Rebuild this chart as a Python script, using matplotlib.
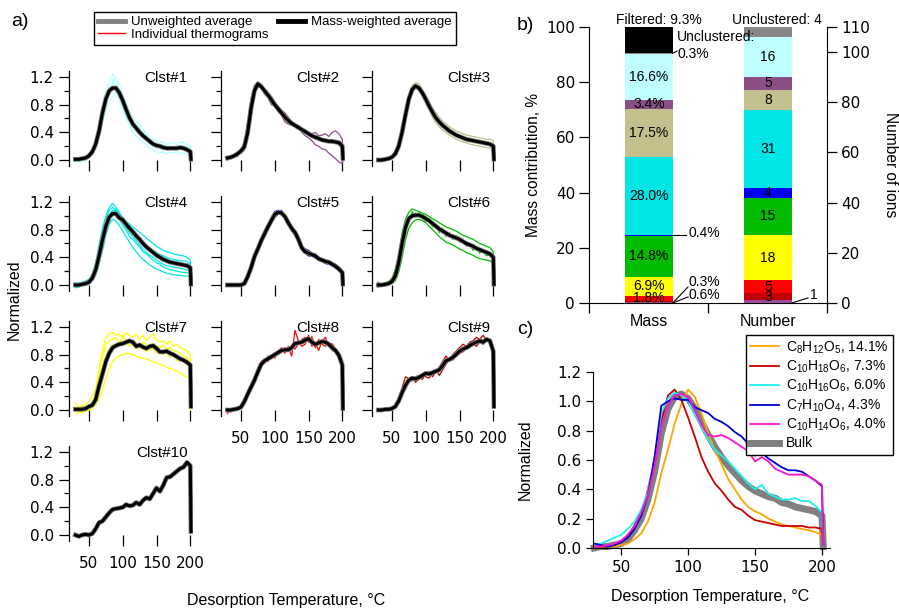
import matplotlib
matplotlib.use("Agg")
import matplotlib.pyplot as plt
import numpy as np
from matplotlib.lines import Line2D

plt.rcParams['font.family'] = ['DejaVu Sans']
plt.rcParams['mathtext.fontset'] = 'custom'
plt.rcParams['mathtext.rm'] = 'Liberation Sans'
plt.rcParams['mathtext.it'] = 'Liberation Sans:italic'
plt.rcParams['mathtext.default'] = 'regular'
TXT = 'Liberation Sans'  # text labels; tick numbers stay in DejaVu Sans

# ---------------- data ----------------
temps = [30, 35, 40, 45, 50, 55, 60, 65, 70, 75, 80, 85, 90, 95, 100, 105, 110, 115,
         120, 125, 130, 135, 140, 145, 150, 155, 160, 165, 170, 175, 180, 185, 190, 195, 200, 201]

clst1_avg = [0.01, 0.01, 0.02, 0.03, 0.06, 0.12, 0.23, 0.42, 0.68, 0.88, 1.00, 1.04,
             1.04, 0.97, 0.86, 0.73, 0.61, 0.52, 0.46, 0.40, 0.35, 0.31, 0.27, 0.23,
             0.21, 0.20, 0.18, 0.17, 0.17, 0.17, 0.17, 0.18, 0.17, 0.15, 0.12, 0.01]
clst1_ind = [
    [-0.03, 0.02, 0.00, 0.05, 0.02, 0.15, 0.30, 0.55, 0.80, 1.00, 1.12, 1.25,
     1.18, 1.10, 0.95, 0.82, 0.70, 0.62, 0.55, 0.52, 0.45, 0.38, 0.35, 0.30,
     0.28, 0.25, 0.27, 0.22, 0.24, 0.25, 0.22, 0.26, 0.25, 0.23, 0.20, 0.00],
    [0.02, -0.04, 0.03, 0.00, 0.08, 0.06, 0.15, 0.30, 0.55, 0.72, 0.85, 0.92,
     0.98, 0.85, 0.72, 0.60, 0.50, 0.40, 0.35, 0.30, 0.26, 0.22, 0.18, 0.15,
     0.12, 0.10, 0.12, 0.09, 0.11, 0.10, 0.12, 0.09, 0.10, 0.08, 0.06, 0.00],
    [0.00, 0.03, -0.02, 0.04, 0.05, 0.10, 0.22, 0.45, 0.62, 0.90, 1.05, 1.10,
     1.20, 0.92, 0.80, 0.78, 0.58, 0.50, 0.40, 0.48, 0.30, 0.36, 0.25, 0.22,
     0.16, 0.22, 0.14, 0.18, 0.15, 0.20, 0.16, 0.19, 0.21, 0.18, 0.14, -0.02],
    [0.04, 0.00, 0.02, -0.03, 0.07, 0.09, 0.18, 0.38, 0.70, 0.82, 0.95, 1.15,
     1.08, 1.02, 0.88, 0.66, 0.55, 0.46, 0.50, 0.38, 0.40, 0.28, 0.30, 0.26,
     0.24, 0.17, 0.22, 0.20, 0.14, 0.18, 0.20, 0.15, 0.18, 0.20, 0.17, 0.00],
]

clst2_avg = [0.03, 0.04, 0.06, 0.09, 0.13, 0.19, 0.40, 0.75, 1.00, 1.10, 1.06, 1.00,
             0.94, 0.87, 0.80, 0.74, 0.68, 0.62, 0.57, 0.53, 0.50, 0.47, 0.44, 0.41,
             0.38, 0.35, 0.33, 0.31, 0.29, 0.28, 0.27, 0.27, 0.26, 0.25, 0.20, 0.02]
clst2_ind = [
    [0.00, 0.02, 0.08, 0.05, 0.15, 0.25, 0.55, 0.90, 1.08, 1.12, 1.05, 0.95,
     0.90, 0.80, 0.78, 0.70, 0.65, 0.55, 0.52, 0.50, 0.48, 0.45, 0.42, 0.44,
     0.40, 0.38, 0.40, 0.35, 0.36, 0.38, 0.34, 0.40, 0.42, 0.38, 0.30, 0.02],
    [0.05, 0.03, 0.04, 0.12, 0.10, 0.14, 0.30, 0.62, 0.95, 1.13, 1.08, 1.02,
     0.96, 0.92, 0.84, 0.76, 0.70, 0.66, 0.60, 0.55, 0.52, 0.46, 0.40, 0.35,
     0.32, 0.28, 0.22, 0.20, 0.16, 0.15, 0.10, 0.06, 0.02, -0.03, -0.05, 0.00],
    [0.02, 0.06, 0.05, 0.08, 0.12, 0.20, 0.42, 0.70, 0.98, 1.05, 1.10, 1.02,
     0.98, 0.88, 0.82, 0.78, 0.72, 0.68, 0.62, 0.56, 0.50, 0.50, 0.46, 0.42,
     0.40, 0.36, 0.34, 0.32, 0.30, 0.26, 0.28, 0.24, 0.26, 0.22, 0.18, 0.02],
]

clst3_avg = [0.00, 0.00, 0.01, 0.02, 0.04, 0.09, 0.20, 0.40, 0.65, 0.88, 1.02, 1.07,
             1.04, 0.97, 0.88, 0.78, 0.69, 0.61, 0.55, 0.50, 0.46, 0.42, 0.39, 0.36,
             0.34, 0.32, 0.30, 0.29, 0.28, 0.27, 0.26, 0.25, 0.24, 0.23, 0.20, 0.01]
clst3_ind = [
    [0.00, 0.01, 0.02, 0.03, 0.06, 0.12, 0.26, 0.48, 0.74, 0.95, 1.08, 1.12,
     1.10, 1.02, 0.94, 0.85, 0.76, 0.68, 0.62, 0.56, 0.52, 0.48, 0.45, 0.42,
     0.40, 0.38, 0.36, 0.35, 0.34, 0.33, 0.32, 0.31, 0.30, 0.30, 0.28, 0.02],
    [0.00, 0.00, 0.01, 0.02, 0.03, 0.07, 0.15, 0.33, 0.58, 0.82, 0.98, 1.04,
     1.00, 0.92, 0.82, 0.72, 0.62, 0.54, 0.48, 0.43, 0.40, 0.36, 0.33, 0.30,
     0.28, 0.26, 0.25, 0.23, 0.22, 0.21, 0.20, 0.19, 0.18, 0.17, 0.15, 0.01],
    [0.01, 0.00, 0.02, 0.02, 0.05, 0.10, 0.22, 0.42, 0.68, 0.90, 1.03, 1.08,
     1.06, 0.98, 0.90, 0.80, 0.72, 0.64, 0.58, 0.52, 0.48, 0.44, 0.40, 0.38,
     0.35, 0.33, 0.31, 0.30, 0.29, 0.28, 0.27, 0.26, 0.26, 0.25, 0.23, 0.01],
]

clst4_avg = [0.00, 0.00, 0.01, 0.02, 0.04, 0.10, 0.22, 0.42, 0.65, 0.85, 0.98, 1.03,
             1.03, 0.97, 0.94, 0.88, 0.82, 0.77, 0.71, 0.66, 0.60, 0.55, 0.51, 0.47,
             0.43, 0.40, 0.37, 0.35, 0.33, 0.32, 0.31, 0.30, 0.29, 0.28, 0.25, 0.01]
clst4_ind = [
    [0.02, 0.03, 0.04, 0.06, 0.08, 0.16, 0.32, 0.58, 0.82, 1.00, 1.12, 1.18,
     1.12, 1.05, 0.98, 0.92, 0.88, 0.84, 0.80, 0.76, 0.72, 0.68, 0.64, 0.60,
     0.56, 0.53, 0.50, 0.48, 0.47, 0.45, 0.44, 0.43, 0.42, 0.40, 0.36, 0.02],
    [-0.04, -0.02, 0.00, 0.01, 0.02, 0.06, 0.14, 0.30, 0.50, 0.72, 0.88, 0.95,
     0.92, 0.86, 0.78, 0.70, 0.62, 0.55, 0.48, 0.42, 0.37, 0.33, 0.29, 0.26,
     0.23, 0.21, 0.19, 0.17, 0.16, 0.15, 0.14, 0.14, 0.13, 0.13, 0.12, 0.01],
    [0.00, 0.01, 0.02, 0.03, 0.05, 0.12, 0.25, 0.45, 0.68, 0.88, 1.02, 1.08,
     1.05, 0.98, 0.90, 0.83, 0.76, 0.70, 0.64, 0.58, 0.52, 0.47, 0.43, 0.40,
     0.36, 0.33, 0.30, 0.28, 0.27, 0.26, 0.25, 0.24, 0.23, 0.22, 0.20, 0.01],
    [0.01, 0.00, 0.03, 0.04, 0.07, 0.14, 0.28, 0.52, 0.75, 0.95, 1.08, 1.12,
     1.08, 1.02, 0.95, 0.88, 0.82, 0.77, 0.72, 0.67, 0.62, 0.58, 0.54, 0.50,
     0.47, 0.44, 0.42, 0.40, 0.38, 0.37, 0.36, 0.35, 0.35, 0.34, 0.30, 0.01],
    [0.03, -0.03, 0.01, 0.02, 0.04, 0.08, 0.20, 0.38, 0.62, 0.80, 0.96, 1.05,
     1.10, 0.95, 0.86, 0.80, 0.70, 0.66, 0.60, 0.55, 0.48, 0.45, 0.40, 0.36,
     0.32, 0.30, 0.26, 0.24, 0.22, 0.21, 0.20, 0.19, 0.18, 0.18, 0.16, 0.01],
]

clst5_avg = [0.00, 0.00, 0.00, 0.00, 0.00, 0.02, 0.12, 0.25, 0.41, 0.52, 0.64, 0.74,
             0.84, 0.93, 1.02, 1.05, 1.04, 0.99, 0.90, 0.82, 0.76, 0.66, 0.54, 0.48,
             0.46, 0.44, 0.42, 0.38, 0.36, 0.34, 0.33, 0.30, 0.27, 0.23, 0.18, 0.01]
clst5_ind = [
    [0.00, 0.00, 0.00, 0.01, 0.00, 0.04, 0.14, 0.30, 0.44, 0.55, 0.66, 0.78,
     0.88, 0.98, 1.06, 1.08, 1.05, 1.02, 0.90, 0.82, 0.76, 0.66, 0.55, 0.52,
     0.50, 0.46, 0.45, 0.40, 0.38, 0.36, 0.34, 0.32, 0.30, 0.26, 0.20, 0.01],
    [0.00, 0.00, 0.00, 0.00, 0.01, 0.01, 0.10, 0.22, 0.38, 0.50, 0.62, 0.70,
     0.80, 0.90, 0.98, 1.02, 1.08, 0.98, 0.94, 0.78, 0.72, 0.70, 0.50, 0.46,
     0.42, 0.42, 0.39, 0.36, 0.34, 0.31, 0.30, 0.28, 0.25, 0.22, 0.16, 0.01],
]

clst6_avg = [0.00, 0.00, 0.01, 0.02, 0.05, 0.13, 0.32, 0.60, 0.83, 0.96, 1.00, 1.01,
             1.01, 0.99, 0.96, 0.93, 0.89, 0.85, 0.81, 0.78, 0.75, 0.72, 0.70, 0.68,
             0.66, 0.63, 0.60, 0.58, 0.56, 0.53, 0.51, 0.49, 0.47, 0.45, 0.40, 0.01]
clst6_ind = [
    [0.00, 0.01, 0.03, 0.05, 0.10, 0.22, 0.45, 0.75, 0.95, 1.05, 1.10, 1.08,
     1.06, 1.04, 1.02, 0.99, 0.96, 0.93, 0.90, 0.87, 0.84, 0.82, 0.80, 0.78,
     0.75, 0.72, 0.70, 0.68, 0.66, 0.63, 0.60, 0.58, 0.56, 0.54, 0.48, 0.02],
    [-0.03, 0.02, 0.00, 0.01, 0.02, 0.06, 0.18, 0.40, 0.65, 0.82, 0.90, 0.94,
     0.95, 0.93, 0.90, 0.85, 0.80, 0.75, 0.70, 0.66, 0.62, 0.60, 0.58, 0.55,
     0.52, 0.50, 0.47, 0.45, 0.43, 0.40, 0.38, 0.37, 0.36, 0.35, 0.30, 0.01],
    [0.01, -0.01, 0.02, 0.03, 0.06, 0.15, 0.35, 0.62, 0.86, 0.98, 1.02, 1.03,
     1.00, 1.02, 0.97, 0.94, 0.90, 0.86, 0.82, 0.80, 0.76, 0.72, 0.71, 0.68,
     0.66, 0.64, 0.61, 0.58, 0.56, 0.55, 0.52, 0.50, 0.48, 0.46, 0.42, 0.01],
    [0.04, 0.00, -0.02, 0.01, 0.04, 0.10, 0.28, 0.55, 0.78, 0.92, 1.06, 0.98,
     1.04, 0.96, 0.92, 0.96, 0.84, 0.88, 0.76, 0.82, 0.70, 0.76, 0.66, 0.72,
     0.62, 0.66, 0.56, 0.60, 0.50, 0.54, 0.46, 0.50, 0.42, 0.44, 0.38, 0.01],
]

clst7_avg = [0.01, 0.01, 0.01, 0.02, 0.05, 0.07, 0.15, 0.35, 0.52, 0.70, 0.82, 0.90,
             0.93, 0.95, 0.96, 0.98, 1.00, 0.98, 0.92, 0.94, 0.91, 0.89, 0.92, 0.93,
             0.89, 0.84, 0.84, 0.85, 0.82, 0.80, 0.77, 0.74, 0.72, 0.69, 0.65, 0.05]
clst7_ind = [
    [0.10, 0.04, 0.05, 0.08, 0.12, 0.20, 0.30, 0.60, 0.85, 1.05, 1.10, 1.12,
     1.08, 1.10, 1.05, 1.12, 1.08, 1.05, 1.10, 1.02, 1.08, 1.00, 1.05, 1.10,
     1.02, 0.98, 1.00, 0.95, 1.00, 0.92, 0.95, 0.90, 0.88, 0.85, 0.80, 0.05],
    [-0.05, -0.03, -0.04, -0.02, 0.00, 0.02, 0.08, 0.15, 0.30, 0.45, 0.60, 0.70,
     0.75, 0.78, 0.80, 0.82, 0.82, 0.80, 0.78, 0.76, 0.75, 0.74, 0.72, 0.70,
     0.68, 0.66, 0.64, 0.62, 0.60, 0.58, 0.56, 0.54, 0.50, 0.48, 0.45, 0.00],
    [0.02, 0.05, -0.02, 0.03, 0.06, 0.04, 0.18, 0.40, 0.60, 0.78, 0.88, 0.95,
     0.90, 0.98, 1.00, 0.95, 1.02, 0.94, 0.88, 0.96, 0.90, 0.84, 0.92, 0.88,
     0.82, 0.86, 0.80, 0.84, 0.76, 0.80, 0.72, 0.70, 0.74, 0.66, 0.62, 0.02],
    [-0.02, 0.03, 0.06, 0.00, 0.03, 0.10, 0.25, 0.50, 0.75, 0.95, 1.00, 1.02,
     1.05, 0.96, 1.08, 1.00, 0.92, 1.00, 0.98, 0.88, 0.98, 0.94, 0.86, 0.96,
     0.92, 0.90, 0.94, 0.88, 0.90, 0.86, 0.84, 0.82, 0.78, 0.76, 0.70, 0.03],
]

clst8_avg = [0.00, 0.00, 0.01, 0.02, 0.04, 0.12, 0.23, 0.33, 0.43, 0.55, 0.66, 0.71,
             0.74, 0.77, 0.80, 0.83, 0.86, 0.87, 0.87, 0.90, 0.96, 0.97, 0.98, 1.01,
             1.03, 0.98, 0.95, 0.97, 0.99, 0.98, 0.95, 0.90, 0.86, 0.79, 0.65, 0.02]
clst8_ind = [
    [-0.05, 0.02, 0.00, 0.03, 0.02, 0.15, 0.25, 0.35, 0.48, 0.60, 0.70, 0.74,
     0.70, 0.80, 0.75, 0.85, 0.90, 0.82, 0.92, 0.78, 1.15, 1.00, 0.92, 0.95,
     1.08, 0.92, 0.98, 0.86, 1.00, 1.05, 0.92, 0.96, 0.88, 0.82, 0.70, 0.00],
    [0.02, -0.03, 0.02, 0.00, 0.05, 0.08, 0.20, 0.30, 0.40, 0.52, 0.64, 0.68,
     0.78, 0.74, 0.82, 0.80, 0.84, 0.90, 0.85, 0.92, 0.88, 0.96, 1.02, 1.05,
     0.98, 1.06, 0.90, 1.02, 0.95, 0.92, 0.98, 0.86, 0.84, 0.76, 0.60, 0.00],
]

clst9_avg = [0.00, 0.00, 0.01, 0.01, 0.02, 0.05, 0.13, 0.25, 0.36, 0.43, 0.46, 0.45,
             0.47, 0.50, 0.53, 0.52, 0.54, 0.56, 0.58, 0.64, 0.71, 0.73, 0.76, 0.80,
             0.85, 0.88, 0.90, 0.93, 0.96, 0.98, 1.00, 0.98, 1.02, 1.00, 0.85, 0.05]
clst9_ind = [
    [0.00, 0.02, 0.00, 0.03, 0.02, 0.08, 0.18, 0.32, 0.48, 0.45, 0.42, 0.48,
     0.50, 0.44, 0.52, 0.56, 0.48, 0.55, 0.62, 0.70, 0.78, 0.72, 0.80, 0.85,
     0.90, 0.95, 0.92, 0.98, 1.00, 1.05, 1.02, 1.08, 1.00, 0.98, 0.90, 0.05],
    [0.01, -0.02, 0.02, 0.00, 0.02, 0.03, 0.10, 0.22, 0.30, 0.40, 0.48, 0.40,
     0.45, 0.52, 0.48, 0.46, 0.55, 0.58, 0.50, 0.58, 0.66, 0.74, 0.72, 0.78,
     0.82, 0.84, 0.88, 0.90, 0.95, 0.92, 0.98, 0.95, 1.04, 1.02, 0.80, 0.05],
]

clst10_avg = [0.00, -0.02, 0.00, 0.01, 0.00, 0.02, 0.09, 0.18, 0.20, 0.26, 0.32, 0.37,
              0.38, 0.39, 0.40, 0.44, 0.42, 0.43, 0.47, 0.44, 0.50, 0.54, 0.52, 0.60,
              0.68, 0.63, 0.72, 0.83, 0.84, 0.88, 0.92, 0.96, 0.98, 1.05, 1.00, 0.05]
clst10_ind = []

clst_names = ['Clst#1', 'Clst#2', 'Clst#3', 'Clst#4', 'Clst#5',
              'Clst#6', 'Clst#7', 'Clst#8', 'Clst#9', 'Clst#10']
clst_colors = ['#B4FFFF', '#8B4F87', '#C4C08E', '#00E6E6', '#0000F0',
               '#00BB00', '#FFFF00', '#FF0000', '#C00000', '#9C4A9C']

# panel b: stacked from the bottom (Clst#10 ... Clst#1, unclustered, filtered)
seg_colors = ['#9C4A9C', '#C00000', '#FF0000', '#FFFF00', '#00BB00', '#0000F0',
              '#00E6E6', '#C4C08E', '#8B4F87', '#C0FFFF', '#888888', '#000000']
mass_pct = [0.3, 0.6, 1.8, 6.9, 14.8, 0.4, 28.0, 17.5, 3.4, 16.6, 0.3, 9.3]
n_ions = [1, 3, 5, 18, 15, 4, 31, 8, 5, 16, 4, 0]

# panel c
ions_c = [r'C$_8$H$_{12}$O$_5$, 14.1%', r'C$_{10}$H$_{18}$O$_6$, 7.3%',
          r'C$_{10}$H$_{16}$O$_6$, 6.0%', r'C$_7$H$_{10}$O$_4$, 4.3%',
          r'C$_{10}$H$_{14}$O$_6$, 4.0%']
ions_c_colors = ['#FFA500', '#CC0000', '#1EF0F0', '#0000CC', '#FF14CC']
c8h12o5 = [0.01, 0.01, 0.01, 0.01, 0.02, 0.03, 0.06, 0.10, 0.18, 0.31, 0.51, 0.67,
           0.85, 0.98, 1.08, 1.03, 0.92, 0.78, 0.67, 0.57, 0.47, 0.40, 0.33, 0.28,
           0.25, 0.23, 0.20, 0.18, 0.16, 0.15, 0.14, 0.13, 0.12, 0.11, 0.09, 0.00]
c10h18o6 = [0.01, 0.01, 0.01, 0.02, 0.04, 0.08, 0.15, 0.25, 0.37, 0.57, 0.87, 1.04,
            1.08, 1.01, 0.89, 0.76, 0.62, 0.52, 0.44, 0.39, 0.33, 0.28, 0.26, 0.22,
            0.19, 0.18, 0.17, 0.16, 0.15, 0.15, 0.15, 0.15, 0.14, 0.14, 0.13, 0.00]
c10h16o6 = [0.02, 0.03, 0.05, 0.07, 0.09, 0.13, 0.18, 0.26, 0.38, 0.60, 0.92, 1.02,
            1.06, 1.04, 1.00, 0.91, 0.83, 0.74, 0.67, 0.63, 0.59, 0.54, 0.49, 0.44,
            0.40, 0.43, 0.37, 0.35, 0.33, 0.33, 0.34, 0.32, 0.32, 0.29, 0.24, 0.01]
c7h10o4 = [0.03, 0.02, 0.01, 0.02, 0.04, 0.07, 0.13, 0.22, 0.36, 0.62, 0.97, 1.00,
           1.02, 1.01, 1.01, 0.96, 0.94, 0.92, 0.88, 0.86, 0.83, 0.79, 0.76, 0.71,
           0.63, 0.65, 0.61, 0.58, 0.55, 0.53, 0.53, 0.52, 0.49, 0.46, 0.42, 0.02]
c10h14o6 = [0.01, 0.01, 0.02, 0.03, 0.05, 0.09, 0.15, 0.24, 0.36, 0.56, 0.83, 0.97,
            1.04, 1.05, 1.03, 0.94, 0.84, 0.77, 0.76, 0.77, 0.75, 0.72, 0.69, 0.66,
            0.59, 0.62, 0.59, 0.54, 0.52, 0.50, 0.50, 0.50, 0.49, 0.46, 0.43, 0.02]
bulk = [0.00, 0.01, 0.01, 0.02, 0.03, 0.06, 0.12, 0.20, 0.33, 0.52, 0.78, 0.95,
        1.03, 1.05, 1.02, 0.95, 0.86, 0.77, 0.69, 0.62, 0.56, 0.51, 0.46, 0.42,
        0.39, 0.37, 0.35, 0.34, 0.31, 0.30, 0.28, 0.27, 0.26, 0.25, 0.22, 0.01]

# ---------------- figure ----------------
W, H = 899, 610
fig = plt.figure(figsize=(W / 100, H / 100), dpi=100)


def px_axes(left, top, right, bottom):
    return fig.add_axes([left / W, 1 - bottom / H, (right - left) / W, (bottom - top) / H])


# ---- panel a: small multiples ----
avgs = [clst1_avg, clst2_avg, clst3_avg, clst4_avg, clst5_avg,
        clst6_avg, clst7_avg, clst8_avg, clst9_avg, clst10_avg]
inds = [clst1_ind, clst2_ind, clst3_ind, clst4_ind, clst5_ind,
        clst6_ind, clst7_ind, clst8_ind, clst9_ind, clst10_ind]
col_left = [69, 221, 372]
row_zero = [160, 285, 410, 535]
ppu = 69.2  # pixels per normalized unit
for i in range(10):
    r, c = divmod(i, 3)
    y0 = row_zero[r]
    x0 = col_left[c]
    ax = px_axes(x0, y0 - 1.29 * ppu, x0 + 124, y0 + 0.09 * ppu)
    for tr in inds[i]:
        ax.plot(temps, tr, color=clst_colors[i], lw=0.9)
    ax.plot(temps, avgs[i], color='#808080', lw=3.4)
    ax.plot(temps, avgs[i], color='black', lw=2.2)
    ax.set_xlim(20.5, 204)
    ax.set_ylim(-0.09, 1.29)
    ax.spines['top'].set_visible(False)
    ax.spines['right'].set_visible(False)
    ax.spines['bottom'].set_position(('data', 0))
    ax.spines['bottom'].set_visible(False)
    ax.spines['left'].set_linewidth(0.9)
    ax.set_xticks([50, 100, 150, 200])
    ax.set_yticks([0, 0.4, 0.8, 1.2])
    ax.set_yticklabels(['0.0', '0.4', '0.8', '1.2'])
    ax.set_yticks([0.2, 0.6, 1.0], minor=True)
    ax.tick_params(axis='y', which='major', length=7, width=0.9, pad=4, labelsize=11,
                   labelleft=(c == 0))
    ax.tick_params(axis='y', which='minor', length=3.5, width=0.9)
    ax.tick_params(axis='x', which='major', length=8, width=0.9, pad=7, labelsize=11,
                   labelbottom=(i >= 7))
    ax.text(196, 1.29, clst_names[i], ha='right', va='top', fontsize=11, family=TXT)

fig.text(14 / W, 1 - 300 / H, 'Normalized', rotation=90, ha='center', va='center',
         fontsize=11.5, family=TXT)
fig.text(286 / W, 1 - 601 / H, 'Desorption Temperature, °C', ha='center', va='center',
         fontsize=11.5, family=TXT)
fig.text(20 / W, 1 - 22 / H, 'a)', ha='center', va='center', fontsize=14, family=TXT)

leg_a = [Line2D([], [], color='#808080', lw=3.5),
         Line2D([], [], color='#FF0000', lw=1.0),
         Line2D([], [], color='black', lw=3.5)]
fig.legend(leg_a, ['Unweighted average', 'Individual thermograms', 'Mass-weighted average'],
           ncol=2, loc='upper left', bbox_to_anchor=(94 / W, 1 - 12 / H),
           prop={'family': TXT, 'size': 9.5},
           frameon=True, fancybox=False, edgecolor='black', framealpha=1,
           borderpad=0.3, labelspacing=0.05, handlelength=2.05, handletextpad=0.45,
           columnspacing=0.75, borderaxespad=0)

# ---- panel b: stacked bars ----
axb = px_axes(589, 27, 827, 303)
axn = axb.twinx()
mass_x, num_x, bar_w = 0.252, 0.752, 0.2
mass_bot = np.concatenate([[0], np.cumsum(mass_pct)[:-1]])
num_bot = np.concatenate([[0], np.cumsum(n_ions)[:-1]])
axb.bar([mass_x] * len(mass_pct), mass_pct, bar_w, bottom=mass_bot, color=seg_colors, lw=0)
axn.bar([num_x] * len(n_ions), n_ions, bar_w, bottom=num_bot, color=seg_colors, lw=0)
axb.set_xlim(0, 1)
axb.set_ylim(0, 100)
axn.set_ylim(0, 110)
bfs = 10
for k in [2, 3, 4, 6, 7, 8, 9]:
    axb.text(mass_x, mass_bot[k] + mass_pct[k] / 2, f'{mass_pct[k]:.1f}%',
             ha='center', va='center', fontsize=bfs, family=TXT)
for k in range(1, 10):
    axn.text(num_x, num_bot[k] + n_ions[k] / 2, str(n_ions[k]),
             ha='center', va='center', fontsize=bfs, family=TXT)

# leader-line labels
edge = mass_x + bar_w / 2
axb.plot([edge, 0.408], [mass_bot[5] + 0.2, mass_bot[5] + 0.2], color='black', lw=0.8)
axb.text(0.416, mass_bot[5] + 0.8, f'{mass_pct[5]:.1f}%', ha='left', va='center',
         fontsize=bfs, family=TXT)
axb.plot([edge, 0.416], [0, 5.8], color='black', lw=0.8, clip_on=False)
axb.text(0.42, 7.6, f'{mass_pct[0]:.1f}%', ha='left', va='center', fontsize=bfs, family=TXT)
axb.plot([edge, 0.416], [0, 2.2], color='black', lw=0.8, clip_on=False)
axb.text(0.42, 2.9, f'{mass_pct[1]:.1f}%', ha='left', va='center', fontsize=bfs, family=TXT)
axb.plot([edge, 0.37], [mass_bot[10] + 0.15, 91.3], color='black', lw=0.8)
# drawn on the twin axes so that it stays above the Number bar
axn.text(0.37, 96.4, 'Unclustered:', ha='left', va='center', fontsize=bfs, family=TXT,
         transform=axb.transData, zorder=5)
axb.text(0.37, 90.2, f'{mass_pct[10]:.1f}%', ha='left', va='center', fontsize=bfs, family=TXT)
axb.text(0.294, 102.6, f'Filtered: {mass_pct[11]:.1f}%', ha='center', va='center',
         fontsize=bfs, family=TXT, clip_on=False)
axn.text(0.79, 112.9, f'Unclustered: {n_ions[10]}', ha='center', va='center',
         fontsize=bfs, family=TXT, clip_on=False)
axn.plot([num_x + bar_w / 2, 0.92], [0, 2.0], color='black', lw=0.8, clip_on=False)
axn.text(0.93, 3.2, str(n_ions[0]), ha='left', va='center', fontsize=bfs, family=TXT)

axb.spines['top'].set_visible(False)
axb.spines['right'].set_visible(False)
axn.spines['top'].set_visible(False)
axn.spines['left'].set_visible(False)
axn.spines['bottom'].set_visible(False)
axb.set_yticks([0, 20, 40, 60, 80, 100])
axn.set_yticks([0, 20, 40, 60, 80, 100, 110])
axb.set_xticks([0, 0.5, 1])
axb.set_xticklabels([])
axb.set_xticks([mass_x, num_x], minor=True)
axb.set_xticklabels(['Mass', 'Number'], minor=True, family=TXT)
axb.tick_params(axis='x', which='major', length=7, width=0.9)
axb.tick_params(axis='x', which='minor', length=0, pad=8, labelsize=11.5)
axb.tick_params(axis='y', length=7, width=0.9, labelsize=11, pad=3)
axn.tick_params(axis='y', length=7, width=0.9, labelsize=11, pad=3)
axb.set_ylabel('Mass contribution, %', fontsize=11.2, family=TXT)
axb.yaxis.set_label_coords(-0.20, 0.5)
axn.set_ylabel('Number of ions', fontsize=11.2, family=TXT, rotation=270, va='center')
axn.yaxis.set_label_coords(1.265, 0.5)
fig.text(525 / W, 1 - 25 / H, 'b)', ha='center', va='center', fontsize=14, family=TXT)

# ---- panel c: individual ions ----
axc = px_axes(593, 372, 830, 548)
series_c = [c8h12o5, c10h18o6, c10h16o6, c7h10o4, c10h14o6]
hb, = axc.plot(temps, bulk, color='#808080', lw=5, zorder=1, clip_on=False)
handles_c = []
for s, col in zip(series_c, ions_c_colors):
    h, = axc.plot(temps, s, color=col, lw=1.3, zorder=2, clip_on=False)
    handles_c.append(h)
axc.set_xlim(29, 206)
axc.set_ylim(0, 1.2)
axc.spines['top'].set_visible(False)
axc.spines['right'].set_visible(False)
axc.set_xticks([50, 100, 150, 200])
axc.set_yticks([0, 0.2, 0.4, 0.6, 0.8, 1.0, 1.2])
axc.set_yticklabels(['0.0', '0.2', '0.4', '0.6', '0.8', '1.0', '1.2'])
axc.tick_params(length=5, width=0.9, labelsize=11)
axc.set_ylabel('Normalized', fontsize=11.5, family=TXT)
axc.yaxis.set_label_coords(-0.255, 0.5)
axc.set_xlabel('Desorption Temperature, °C', fontsize=11.5, family=TXT)
axc.xaxis.set_label_coords(0.494, -0.235)
fig.legend(handles_c + [hb], ions_c + ['Bulk'], loc='upper right',
           bbox_to_anchor=(893 / W, 1 - 335 / H), prop={'family': TXT, 'size': 10},
           frameon=True, fancybox=False, edgecolor='black', framealpha=1, borderpad=0.3,
           labelspacing=0.22, handlelength=2.1, handletextpad=0.5, borderaxespad=0)
fig.text(525 / W, 1 - 330 / H, 'c)', ha='center', va='center', fontsize=14, family=TXT)

fig.savefig('out.png', dpi=100)
